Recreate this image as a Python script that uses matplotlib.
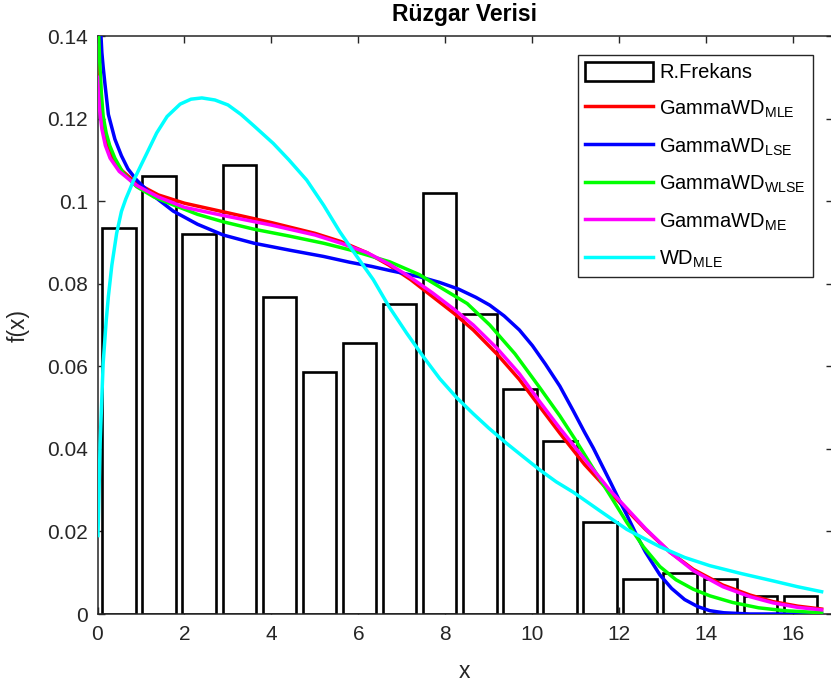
import matplotlib
matplotlib.use("Agg")
import matplotlib.pyplot as plt
from matplotlib.ticker import FixedLocator, FixedFormatter

plt.rcParams['font.family'] = ['Liberation Sans', 'DejaVu Sans']
plt.rcParams['mathtext.fontset'] = 'custom'
plt.rcParams['mathtext.rm'] = 'Liberation Sans'
plt.rcParams['mathtext.it'] = 'Liberation Sans'

# histogram (relative frequency density)
bin_centers = [0.49, 1.41, 2.33, 3.26, 4.18, 5.10, 6.02, 6.94, 7.86,
               8.79, 9.71, 10.63, 11.55, 12.47, 13.39, 14.32, 15.24, 16.16]
freq = [0.0934, 0.1060, 0.0920, 0.1088, 0.0769, 0.0587, 0.0656, 0.0752, 0.1019,
        0.0726, 0.0545, 0.0419, 0.0224, 0.0085, 0.0100, 0.0085, 0.0044, 0.0044]

# fitted densities
x_mle = [0, 0.03, 0.08, 0.15, 0.25, 0.36, 0.55, 0.9, 1.4, 2.0, 2.9, 4.0, 5.0, 5.6,
         6.2, 6.7, 7.2, 7.7, 8.2, 8.64, 9.2, 9.7, 10.17, 10.63, 11.2, 11.55, 11.78,
         12.08, 12.6, 13.16, 13.7, 14.38, 15.0, 15.53, 16.1, 16.65]
y_mle = [0.137, 0.130, 0.123, 0.117, 0.1130, 0.1104, 0.1075, 0.1043, 0.1015, 0.0995,
         0.0974, 0.0948, 0.0922, 0.0902, 0.0875, 0.0845, 0.0810, 0.0769, 0.0728,
         0.0688, 0.0628, 0.0568, 0.0502, 0.0438, 0.0362, 0.0322, 0.0295, 0.0262,
         0.0205, 0.0150, 0.0108, 0.0070, 0.0046, 0.0030, 0.0019, 0.0012]

x_lse = [0.06, 0.08, 0.1, 0.13, 0.17, 0.25, 0.4, 0.55, 0.7, 0.9, 1.2, 1.74, 2.3,
         2.89, 3.6, 4.43, 5.2, 5.8, 6.3, 6.72, 7.4, 7.87, 8.3, 8.7, 9.02, 9.35, 9.7,
         10.0, 10.3, 10.63, 10.94, 11.2, 11.4, 11.6, 11.8, 12.0, 12.17, 12.4, 12.6,
         12.93, 13.2, 13.5, 13.8, 14.08, 14.4, 15.0, 16.65]
y_lse = [0.145, 0.140, 0.136, 0.1325, 0.1285, 0.1210, 0.1150, 0.1110, 0.1078, 0.1051,
         0.1020, 0.0976, 0.0944, 0.0918, 0.0898, 0.0881, 0.0866, 0.0852, 0.0842,
         0.0832, 0.0817, 0.0803, 0.0787, 0.0767, 0.0748, 0.0722, 0.0688, 0.0650,
         0.0605, 0.0552, 0.0492, 0.0440, 0.0402, 0.0360, 0.0318, 0.0275, 0.0240,
         0.0190, 0.0150, 0.0095, 0.0062, 0.0035, 0.0018, 0.0008, 0.0003, 0.0, 0.0]

x_wlse = [0.02, 0.05, 0.09, 0.13, 0.2, 0.28, 0.40, 0.59, 0.9, 1.3, 1.74, 2.3, 2.89,
          3.6, 4.43, 5.2, 5.8, 6.72, 7.4, 7.87, 8.5, 9.02, 9.6, 10.17, 10.63, 11.0,
          11.4, 11.8, 12.17, 12.55, 12.93, 13.3, 13.7, 14.08, 14.6, 15.2, 15.8, 16.65]
y_wlse = [0.142, 0.134, 0.126, 0.1206, 0.1165, 0.1135, 0.1104, 0.1068, 0.1035, 0.1010,
          0.0991, 0.0968, 0.0950, 0.0932, 0.0915, 0.0898, 0.0882, 0.0853, 0.0822,
          0.0792, 0.0752, 0.0700, 0.0630, 0.0548, 0.0480, 0.0420, 0.0352, 0.0285,
          0.0222, 0.0163, 0.0115, 0.0083, 0.0060, 0.0044, 0.0028, 0.0015, 0.0008, 0.0003]

x_me = [0, 0.02, 0.05, 0.1, 0.18, 0.29, 0.5, 0.9, 1.4, 2.0, 2.9, 4.0, 5.0, 5.6, 6.2,
        6.7, 7.2, 7.7, 8.2, 8.64, 9.2, 9.7, 10.17, 10.63, 11.2, 11.55, 11.78, 12.08,
        12.6, 13.16, 13.7, 14.38, 15.0, 15.53, 16.1, 16.65]
y_me = [0.130, 0.126, 0.122, 0.1175, 0.1135, 0.1104, 0.1072, 0.1038, 0.1010, 0.0985,
        0.0965, 0.0942, 0.0918, 0.0898, 0.0875, 0.0848, 0.0815, 0.0778, 0.0738,
        0.0700, 0.0642, 0.0582, 0.0514, 0.0450, 0.0375, 0.0330, 0.0300, 0.0266,
        0.0207, 0.0150, 0.0105, 0.0066, 0.0042, 0.0027, 0.0016, 0.0010]

x_wd = [0.01, 0.02, 0.06, 0.13, 0.2, 0.25, 0.33, 0.44, 0.55, 0.65, 0.75, 0.82, 0.9,
        1.0, 1.13, 1.36, 1.6, 1.9, 2.15, 2.4, 2.7, 3.0, 3.3, 3.6, 4.04, 4.4, 4.81,
        5.2, 5.57, 5.95, 6.34, 6.7, 7.11, 7.5, 7.87, 8.25, 8.64, 9.0, 9.41, 9.8,
        10.17, 10.55, 10.94, 11.55, 12.17, 12.93, 13.5, 14.08, 14.8, 15.54, 16.1, 16.65]
y_wd = [0.0190, 0.0230, 0.0413, 0.0607, 0.0710, 0.0769, 0.0845, 0.0922, 0.0975, 0.1005,
        0.1030, 0.1048, 0.1065, 0.1087, 0.1115, 0.1165, 0.1205, 0.1235, 0.1247,
        0.1250, 0.1245, 0.1233, 0.1210, 0.1182, 0.1140, 0.1100, 0.1051, 0.0990,
        0.0926, 0.0868, 0.0810, 0.0745, 0.0680, 0.0622, 0.0570, 0.0525, 0.0485,
        0.0450, 0.0413, 0.0380, 0.0349, 0.0320, 0.0295, 0.0250, 0.0205, 0.0163,
        0.0137, 0.0117, 0.0098, 0.0080, 0.0066, 0.0054]

xticks = [0, 2, 4, 6, 8, 10, 12, 14, 16]
yticks = [0, 0.02, 0.04, 0.06, 0.08, 0.1, 0.12, 0.14]
ytick_labels = ['0', '0.02', '0.04', '0.06', '0.08', '0.1', '0.12', '0.14']

W, H = 831, 691
fig = plt.figure(figsize=(W / 100, H / 100), dpi=100)
ax = fig.add_axes([97.5 / W, 77 / H, 735 / W, 578 / H])

axc = '#262626'
lw = 2.5
bars = ax.bar(bin_centers, freq, width=0.77, color='white', edgecolor='black',
              linewidth=1.9, label='R.Frekans', zorder=2)
l1, = ax.plot(x_mle, y_mle, color='#ff0000', lw=lw, label='GammaWD$_{\\mathrm{MLE}}$', zorder=3)
l2, = ax.plot(x_lse, y_lse, color='#0000ff', lw=lw, label='GammaWD$_{\\mathrm{LSE}}$', zorder=3)
l3, = ax.plot(x_wlse, y_wlse, color='#00ff00', lw=lw, label='GammaWD$_{\\mathrm{WLSE}}$', zorder=3)
l4, = ax.plot(x_me, y_me, color='#ff00ff', lw=lw, label='GammaWD$_{\\mathrm{ME}}$', zorder=3)
l5, = ax.plot(x_wd, y_wd, color='#00ffff', lw=lw, label='WD$_{\\mathrm{MLE}}$', zorder=3)

ax.set_xlim(0, 16.9)
ax.set_ylim(0, 0.14)
ax.xaxis.set_major_locator(FixedLocator(xticks))
ax.yaxis.set_major_locator(FixedLocator(yticks))
ax.yaxis.set_major_formatter(FixedFormatter(ytick_labels))
ax.tick_params(direction='in', length=5, width=1, top=True, right=True,
               labelsize=15, color=axc, labelcolor=axc)
ax.tick_params(axis='x', pad=8)
ax.tick_params(axis='y', pad=7)
for s in ax.spines.values():
    s.set_color(axc)
    s.set_linewidth(1.1)

ax.set_xlabel('x', fontsize=16.5, color=axc, va='center')
ax.xaxis.set_label_coords(0.5 - 1 / 735, (614 - 672) / 578)
ax.set_ylabel('f(x)', fontsize=16.5, color=axc, va='center')
ax.yaxis.set_label_coords((18 - 97.5) / 735, 0.5)
ax.text(0.5 - 1 / 735, 1 + 21 / 578, 'Rüzgar Verisi', transform=ax.transAxes,
        ha='center', va='center', fontsize=16.5, fontweight='bold')

leg = ax.legend(handles=[bars, l1, l2, l3, l4, l5], loc='upper right',
                bbox_to_anchor=(813 / W, 1 - 55 / H), bbox_transform=fig.transFigure,
                borderaxespad=0, fontsize=14.5, fancybox=False, framealpha=1,
                edgecolor=axc, handlelength=3.4, handleheight=1.05,
                handletextpad=0.3, labelspacing=0.8, borderpad=0.35)
leg.get_frame().set_linewidth(1.0)

fig.savefig('out.png', dpi=100)
